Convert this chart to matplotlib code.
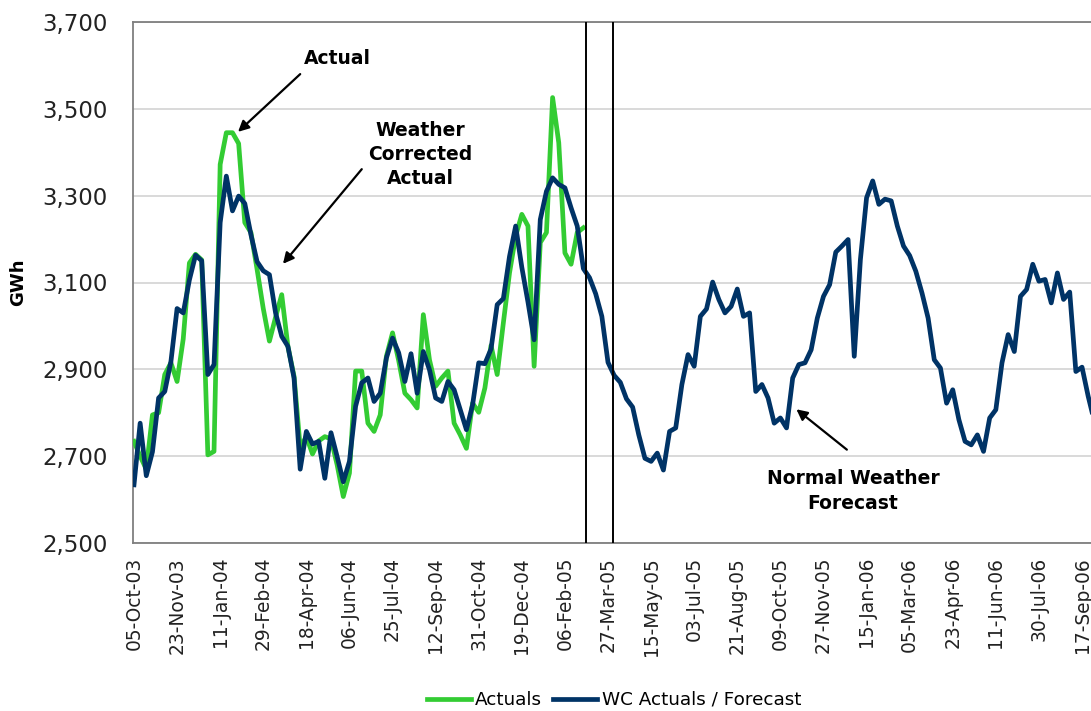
import matplotlib
matplotlib.use("Agg")
import matplotlib.pyplot as plt
import numpy as np
import pandas as pd

# Weekly energy demand (GWh), week-ending dates from 05-Oct-03
start_date = "2003-10-05"
label_every = 7  # weeks between axis labels

actuals = [
    2734, 2700, 2670, 2795, 2800, 2888, 2915, 2872, 2970, 3145,
    3165, 3152, 2703, 2711, 3372, 3445, 3445, 3420, 3238, 3215,
    3130, 3040, 2965, 3020, 3072, 2953, 2884, 2720, 2745, 2705,
    2735, 2745, 2740, 2680, 2607, 2661, 2896, 2896, 2776, 2757,
    2795, 2930, 2984, 2920, 2845, 2830, 2811, 3026, 2922, 2861,
    2880, 2896, 2776, 2749, 2718, 2822, 2801, 2857, 2955, 2888,
    3007, 3122, 3207, 3257, 3230, 2907, 3192, 3215, 3526, 3422,
    3168, 3142, 3215, 3226,
]

wc_actuals_forecast = [
    2634, 2776, 2655, 2710, 2834, 2849, 2918, 3040, 3030, 3106,
    3163, 3150, 2888, 2911, 3238, 3345, 3265, 3299, 3282, 3210,
    3148, 3127, 3118, 3030, 2976, 2953, 2880, 2670, 2757, 2728,
    2734, 2649, 2754, 2699, 2641, 2688, 2815, 2869, 2880, 2826,
    2845, 2926, 2972, 2938, 2872, 2936, 2845, 2941, 2899, 2834,
    2826, 2872, 2853, 2807, 2761, 2818, 2915, 2913, 2947, 3049,
    3063, 3160, 3230, 3135, 3055, 2968, 3245, 3310, 3341, 3326,
    3318, 3272, 3230, 3132, 3111, 3074, 3022, 2916, 2886, 2870,
    2832, 2813, 2749, 2695, 2688, 2707, 2668, 2757, 2765, 2865,
    2934, 2907, 3022, 3039, 3101, 3061, 3030, 3045, 3085, 3022,
    3030, 2849, 2865, 2834, 2776, 2788, 2765, 2880, 2911, 2915,
    2945, 3018, 3068, 3095, 3170, 3184, 3199, 2930, 3153, 3295,
    3334, 3280, 3292, 3288, 3230, 3184, 3162, 3126, 3076, 3018,
    2922, 2903, 2822, 2853, 2784, 2734, 2726, 2749, 2711, 2788,
    2807, 2915, 2980, 2941, 3068, 3084, 3142, 3103, 3107, 3053,
    3122, 3061, 3078, 2895, 2905, 2838, 2780,
]

weeks = pd.date_range(start_date, periods=len(wc_actuals_forecast), freq="7D")
tick_pos = list(range(0, 155, label_every))
tick_labels = [weeks[i].strftime("%d-%b-%y") for i in tick_pos]

# Boundaries between actual data and forecast period (in week units)
split_weeks = [73.5, 77.8]

y_ticks = [2500, 2700, 2900, 3100, 3300, 3500, 3700]

GREEN = "#33CC33"
NAVY = "#003366"

W, H = 1091, 711
fig = plt.figure(figsize=(W / 100, H / 100), dpi=100)
ax = fig.add_axes([133 / W, (H - 543) / H, 965 / W, 521 / H])

x_all = np.arange(len(wc_actuals_forecast))
ax.plot(x_all[:len(actuals)], actuals, color=GREEN, lw=3.4,
        solid_joinstyle="round", label="Actuals", zorder=3)
ax.plot(x_all, wc_actuals_forecast, color=NAVY, lw=3.4,
        solid_joinstyle="round", label="WC Actuals / Forecast", zorder=4)

for xv in split_weeks:
    ax.axvline(xv, color="black", lw=1.4, zorder=5)

ax.set_xlim(-0.16, (1098 - 134) / 6.156)
ax.set_ylim(2500, 3700)
ax.set_yticks(y_ticks)
ax.set_yticklabels([f"{v:,}" for v in y_ticks])
ax.set_xticks(tick_pos)
ax.set_xticklabels(tick_labels, rotation=90)

ax.tick_params(axis="y", length=0, pad=18, labelsize=16.5, colors="#222222")
ax.tick_params(axis="x", length=0, pad=10, labelsize=13.4, colors="#222222")

ax.grid(axis="y", color="#D9D9D9", lw=1.4, zorder=0)
ax.set_axisbelow(True)
for side in ("left", "bottom", "top"):
    ax.spines[side].set_color("#7F7F7F")
    ax.spines[side].set_linewidth(1.3)
ax.spines["right"].set_visible(False)

ax.set_ylabel("GWh", fontsize=13, fontweight="bold")
ax.yaxis.set_label_coords(-106 / 965, 0.5)

anno_kw = dict(fontsize=13.5, fontweight="bold", ha="center", va="center",
               color="black", linespacing=1.35)
arrow_kw = dict(arrowstyle="-|>", color="black", lw=1.6, mutation_scale=16,
                shrinkA=0, shrinkB=0)

ax.text(33.1, 3615, "Actual", **anno_kw)
ax.annotate("", xy=(16.9, 3447), xytext=(27.0, 3580), arrowprops=arrow_kw)

ax.text(46.5, 3395, "Weather\nCorrected\nActual", **anno_kw)
ax.annotate("", xy=(24.2, 3143), xytext=(37.0, 3361), arrowprops=arrow_kw)

ax.text(116.8, 2620, "Normal Weather\nForecast", **anno_kw)
ax.annotate("", xy=(107.6, 2808), xytext=(115.8, 2715), arrowprops=arrow_kw)

fig.legend(loc="center", bbox_to_anchor=(614 / W, 1 - 700 / H), ncol=2,
           frameon=False, fontsize=13.2, handlelength=2.4, handletextpad=0.25,
           columnspacing=0.6)

fig.savefig("out.png", dpi=100)
